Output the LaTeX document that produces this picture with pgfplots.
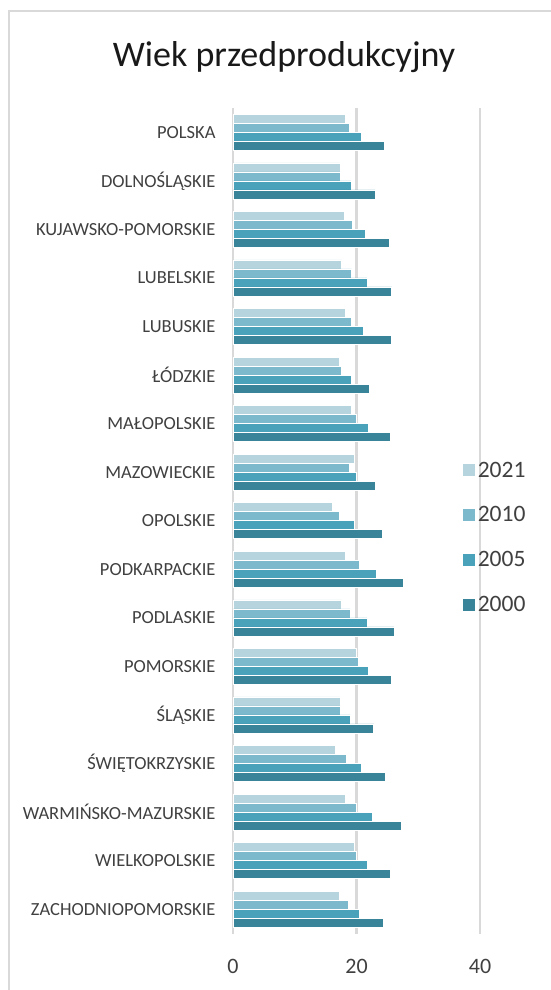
\documentclass[border=0pt]{standalone}
\usepackage{fontspec}
\setmainfont{Carlito}
\usepackage{pgfplots}
\pgfplotsset{compat=1.18}
\usepackage{pgfplotstable}
\definecolor{c2021}{RGB}{182,212,222}
\definecolor{c2010}{RGB}{124,185,205}
\definecolor{c2005}{RGB}{74,161,186}
\definecolor{c2000}{RGB}{58,132,153}
\definecolor{gridgray}{RGB}{217,217,217}
\definecolor{labgray}{RGB}{64,64,64}

% idx: 16 = POLSKA (top) ... 0 = ZACHODNIOPOMORSKIE (bottom)
\pgfplotstableread{
idx y2021 y2010 y2005 y2000
16 18.2 18.9 20.7 24.5
15 17.4 17.4 19.1 23.0
14 18.0 19.4 21.5 25.3
13 17.6 19.2 21.7 25.7
12 18.2 19.2 21.1 25.7
11 17.2 17.6 19.1 22.1
10 19.2 20.0 21.9 25.5
9  19.7 18.9 19.9 23.0
8  16.1 17.2 19.7 24.2
7  18.2 20.5 23.2 27.5
6  17.6 19.0 21.7 26.1
5  19.9 20.3 21.9 25.7
4  17.4 17.4 19.0 22.8
3  16.5 18.4 20.7 24.6
2  18.2 20.0 22.6 27.2
1  19.7 20.0 21.7 25.5
0  17.2 18.6 20.5 24.4
}\wiek

\begin{document}
\begin{tikzpicture}
\path[use as bounding box] (0,0) rectangle (551bp,-990bp);
\draw[gridgray, line width=2bp] (9bp,-990bp) -- (9bp,-11bp) -- (551bp,-11bp);
\node[anchor=base, text=black!90, font=\fontsize{36bp}{40bp}\selectfont] at (284bp,-66bp) {Wiek przedprodukcyjny};
\begin{axis}[
  at={(233bp,-108bp)}, anchor=north west,
  scale only axis, width=247bp, height=825.5bp,
  xbar, bar width=9bp,
  xmin=0, xmax=40, xtick={0,20,40},
  ymin=-0.5, ymax=16.5, ytick={0,...,16},
  yticklabels={ZACHODNIOPOMORSKIE, WIELKOPOLSKIE, WARMIŃSKO-MAZURSKIE, ŚWIĘTOKRZYSKIE, ŚLĄSKIE, POMORSKIE, PODLASKIE, PODKARPACKIE, OPOLSKIE, MAZOWIECKIE, MAŁOPOLSKIE, ŁÓDZKIE, LUBUSKIE, LUBELSKIE, KUJAWSKO-POMORSKIE, DOLNOŚLĄSKIE, POLSKA},
  axis line style={draw=none}, major tick length=0pt,
  xmajorgrids, major grid style={gridgray, line width=2.5bp},
  /pgf/number format/assume math mode=true,
  xticklabel style={font=\fontsize{22bp}{26bp}\selectfont, text=labgray, yshift=-22bp},
  yticklabel style={font=\fontsize{18.5bp}{21bp}\selectfont, text=labgray, xshift=-14bp},
  legend style={at={(0.927,0.574)}, anchor=north west, draw=none, fill=none,
    font=\fontsize{23.5bp}{27bp}\selectfont, text=labgray, row sep=24bp, inner sep=0pt},
  legend cell align=left,
  legend image code/.code={\fill[#1] (0bp,-6.5bp) rectangle (13bp,6.5bp);},
  every axis plot/.append style={draw=white, line width=0.6bp},
]
\addplot[fill=c2021, bar shift=13.5bp] table[x=y2021, y=idx] {\wiek};
\addplot[fill=c2010, bar shift=4.5bp] table[x=y2010, y=idx] {\wiek};
\addplot[fill=c2005, bar shift=-4.5bp] table[x=y2005, y=idx] {\wiek};
\addplot[fill=c2000, bar shift=-13.5bp] table[x=y2000, y=idx] {\wiek};
\legend{2021, 2010, 2005, 2000}
\end{axis}
\end{tikzpicture}
\end{document}
